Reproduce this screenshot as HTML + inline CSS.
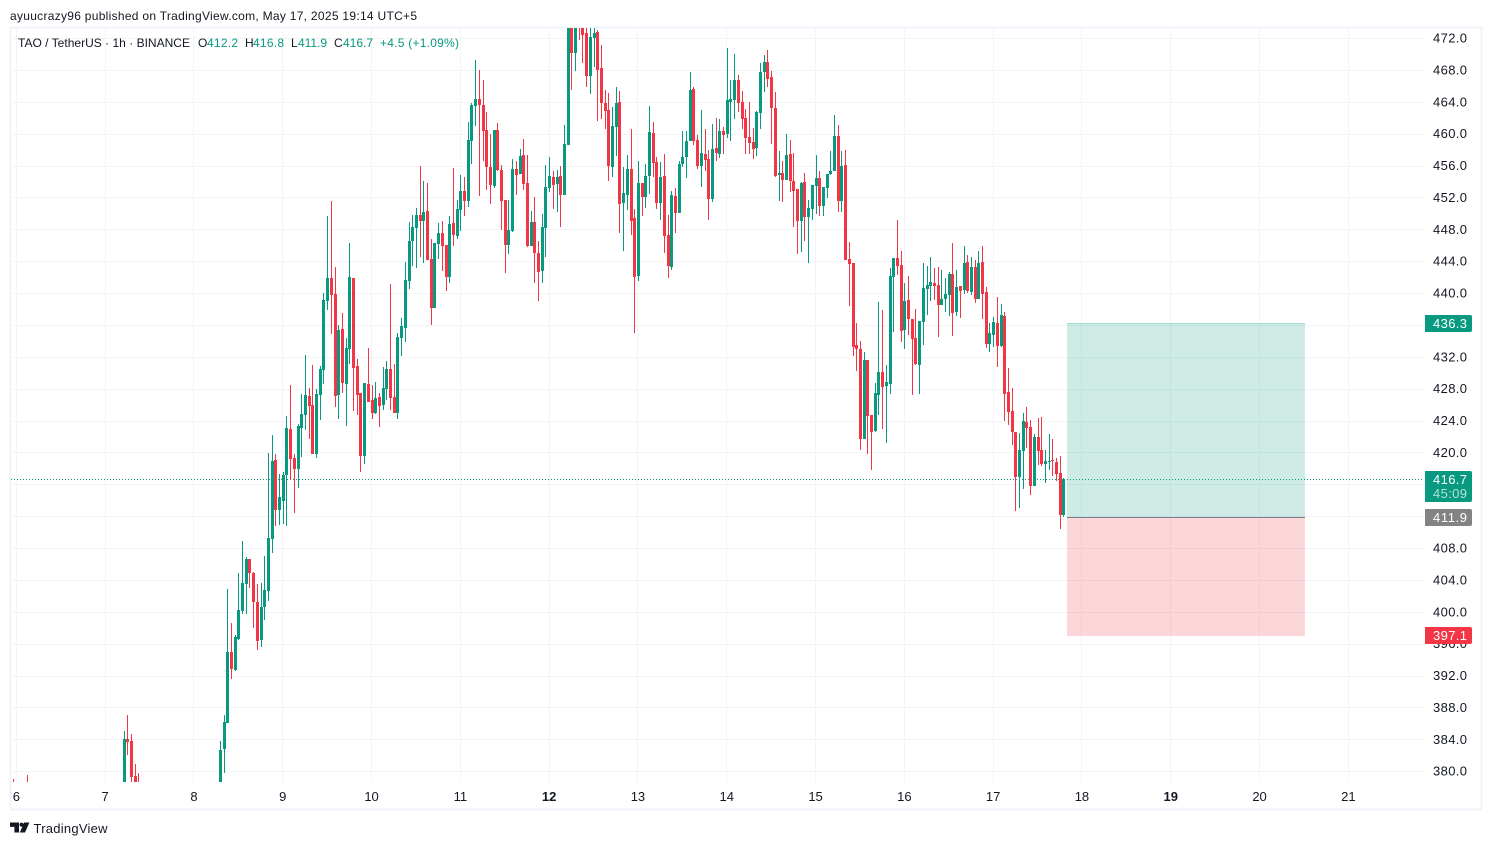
<!DOCTYPE html>
<html lang="en">
<head>
<meta charset="utf-8">
<title>TAO / TetherUS 1h chart</title>
<style>
  html, body { margin: 0; padding: 0; background: #ffffff; }
  body { width: 1492px; height: 845px; overflow: hidden; }
  svg { display: block; font-family: "Liberation Sans", sans-serif; }
  text { fill: #131722; }
</style>
</head>
<body>
<svg id="chart" xmlns="http://www.w3.org/2000/svg" width="1492" height="845" viewBox="0 0 1492 845">
  <defs>
    <clipPath id="pane-clip"><rect x="11" y="28" width="1413" height="754"></rect></clipPath>
  </defs>
  <rect x="0" y="0" width="1492" height="845" fill="#ffffff"></rect>
  <text x="10" y="20" font-size="12" textLength="407" lengthAdjust="spacing">ayuucrazy96 published on TradingView.com, May 17, 2025 19:14 UTC+5</text>
  <rect x="10.5" y="27.5" width="1471" height="782" fill="none" stroke="#f0f3fa" stroke-width="2"></rect>
  <g id="grid"></g>
  <line x1="11" x2="1424" y1="479.5" y2="479.5" stroke="#089981" stroke-width="1" stroke-dasharray="1 2"></line>
  <g>
    <rect id="profit-zone" x="1067" width="238" fill="#089981" fill-opacity="0.2"></rect>
    <rect id="loss-zone" x="1067" width="238" fill="#f23645" fill-opacity="0.2"></rect>
    <rect id="target-line" x="1067" width="238" height="1" fill="#089981" fill-opacity="0.2"></rect>
    <rect id="entry-line" x="1067" width="238" height="1" fill="#787b86"></rect>
  </g>
  <g id="candles" clip-path="url(#pane-clip)"></g>
  <g id="price-axis"></g>
  <g id="time-axis"></g>
  <g font-size="12">
    <text x="18" y="47" textLength="172" lengthAdjust="spacing">TAO / TetherUS · 1h · BINANCE</text>
    <text x="198" y="47">O</text>
    <text x="207" y="47" style="fill:#089981" textLength="31">412.2</text>
    <text x="245" y="47">H</text>
    <text x="253" y="47" style="fill:#089981" textLength="31">416.8</text>
    <text x="291" y="47">L</text>
    <text x="298" y="47" style="fill:#089981" textLength="29">411.9</text>
    <text x="334" y="47">C</text>
    <text x="343" y="47" style="fill:#089981" textLength="30">416.7</text>
    <text x="380" y="47" style="fill:#089981" textLength="79" lengthAdjust="spacing">+4.5 (+1.09%)</text>
  </g>
  <g font-size="13">
    <path d="M1425 315h45a2 2 0 0 1 2 2v13a2 2 0 0 1-2 2h-45z" fill="#089981"></path>
    <text x="1433" y="328" style="fill:#ffffff" textLength="34">436.3</text>
    <path d="M1425 471h45a2 2 0 0 1 2 2v27a2 2 0 0 1-2 2h-45z" fill="#089981"></path>
    <text x="1433" y="484" style="fill:#ffffff" textLength="34">416.7</text>
    <text x="1433" y="498" style="fill:#ffffff;fill-opacity:.7" textLength="34">45:09</text>
    <path d="M1425 509h45a2 2 0 0 1 2 2v13a2 2 0 0 1-2 2h-45z" fill="#838383"></path>
    <text x="1433" y="522" style="fill:#ffffff" textLength="34">411.9</text>
    <path d="M1425 627h45a2 2 0 0 1 2 2v13a2 2 0 0 1-2 2h-45z" fill="#f23645"></path>
    <text x="1433" y="640" style="fill:#ffffff" textLength="34">397.1</text>
  </g>
  <g>
    <path d="M10 822.5h9v10h-4.6v-5.6H10z M19.8 832.5l4.4-10h5.2l-4.4 10z" fill="#131722"></path>
    <circle cx="21.6" cy="824.7" r="2.1" fill="#131722"></circle>
    <text x="33.5" y="833" font-size="13" textLength="74" lengthAdjust="spacing">TradingView</text>
  </g>
</svg>
<script>
// Price axis tick labels
const priceTicks = [472,468,464,460,456,452,448,444,440,436,432,428,424,420,416,412,408,404,400,396,392,388,384,380];
// Day tick labels and which are emphasised
const dayLabels = ['6','7','8','9','10','11','12','13','14','15','16','17','18','19','20','21'];
const boldDays = ['12','19'];
// Position tool prices
const targetPrice = 436.3;
const entryPrice = 411.9;
const stopPrice = 397.1;
// Hours (since day 6 00:00) of the isolated candles that poke into view at the bottom
const leadHours = [-1,3,29,30,31,32,33];
const leadOpens = [377,377,378,384.13,383.88,379.5,378];
const leadHighs = [379.1,379.6,385.13,387.14,384.76,381,379.87];
const leadLows = [375,375,377,382.12,378,376,376];
const leadCloses = [376,376,384.13,383.75,379.36,377,377];
// Continuous candles, starting from this hour
const mainStartHour = 55;
const opens = [
378,382.88,386.14,395.04,392.78,396.67,400.18,403.57,406.7,404.95,
401.31,396.55,400.68,402.69,409.21,419.12,412.85,414,417.25,423.02,
419.37,417.99,423.14,424.8,427.15,426,419.88,427.3,430.42,439.07,
441.96,439.95,427.28,435.56,428.66,433.05,441.96,430.92,427.53,419.63,
428.66,426.66,425.03,427.03,426.03,428.03,430.54,427.03,425.03,434.43,
435.68,441.58,446.6,448.24,449.87,449.12,450.37,444.35,438.2,446.23,
447.61,446.11,442.09,448.87,447.24,450.5,452.88,451.62,459.15,463.54,
464.42,463.66,460.53,455.89,453.5,460.53,455.51,451.75,446.11,447.86,
455.64,455.01,457.39,453.88,445.98,449,445.1,442.85,448.24,453.25,
454.63,453.76,454.76,452.38,458.64,473.3,470.18,476,474,472.69,
467.29,472.06,472.81,468.3,463.9,463.03,455.88,460.9,464.03,451.36,
452.37,455.63,449.49,442.22,453.88,452.12,454.75,460.15,456.51,451.37,
454.75,447.36,443.34,452.25,450.11,456.26,457.14,459.14,465.66,459.27,
456.01,457.51,456.89,451.87,458.27,457.51,460.4,460.02,464.04,464.29,
466.79,464.04,462.03,459.65,459.02,458.27,462.66,467.8,469.05,467.17,
463.28,454.88,455.13,454.25,457.51,454.13,453.12,449.11,454,449.61,
450.62,453.5,454.5,451,453.25,455.01,455.38,459.77,451.62,456.14,
444.33,443.83,433.55,433.05,421.76,431.67,424.77,422.77,427.28,430.16,
428.41,428.66,442.08,444.46,443.58,435.43,439.19,436.81,434.43,431.04,
436.44,440.57,440.95,441.33,441.07,438.57,439.32,439.82,442.45,437.69,
440.95,440.45,443.96,440.2,443.33,439.31,443.95,440.19,433.67,434.8,
436.3,433.42,437.18,427.65,425.27,422.64,416.99,420.25,423.89,423.26,
415.86,422.01,420.38,418.62,418.87,419.12,418.87,417.49,412.2];
const highs = [
383.9,387.14,402.94,398.68,397.17,404.95,408.96,406.95,406.7,405.07,
403.57,403.69,407.08,420,422.25,419.87,417.36,417.61,424.65,428.54,
419.87,423.64,427.4,432.3,428.16,431.04,428,430.9,440.07,449.73,
451.61,443.33,436.06,437.57,434.43,446.34,441.96,431.8,427.53,428.79,
433.18,428.54,428.9,427.53,430.8,431.55,441.2,431.17,435.05,436.94,
443.96,448.98,449.85,450.75,456,454.13,453.88,446.86,446.36,448.87,
449.12,446.11,449.74,455.76,451.75,454.88,454.63,461.53,463.9,469.31,
468.05,466.8,462.78,460.03,460.53,461.41,456.14,451.75,451.75,456.89,
456.64,458.14,459.4,457.39,450.37,452.13,446.6,450,456.14,457.14,
455.39,455.5,456.01,461.15,474,474,474,477,474.5,474.5,
474,473.5,473.06,471.18,465.54,465.16,463.41,465.91,465.41,455.88,
457.39,460.65,450.62,456.64,453.88,456.26,463.53,461.53,457.14,456.51,
457.51,449.86,452.87,453.25,456.64,460.4,460.4,467.8,465.91,459.9,
463.03,460.65,458,461.28,462.03,461.9,460.9,470.81,466.79,470.05,
467.42,465.41,463.16,464.04,460.77,462.91,468.93,469.93,470.56,467.92,
465.29,457.89,456.64,460.02,459.27,457.64,453.12,454,455.13,451.75,
453.63,457.39,455.38,453.38,455.01,457.89,462.41,461.15,457.89,458,
446.47,443.83,436.31,434.05,432.67,431.67,424.77,428.79,438.94,437.94,
431.04,443.2,444.46,449.23,445.34,441.33,442.2,436.81,438.07,436.56,
443.83,443.46,444.59,443.21,443.33,442.96,441.95,442.71,446.34,442.96,
440.95,445.97,444.84,444.58,444.2,445.33,445.96,440.82,436.3,437.06,
439.57,438.69,437.68,430.66,428.15,422.64,422.51,425,425.77,424.14,
422.39,424.39,424.52,420.38,422.39,421.76,419.38,419.63,416.8];
const lows = [
377,379.86,386.14,391.65,392.66,396.55,399.8,399.8,403.07,398.05,
395.29,395.67,399.05,401.44,407.46,410.84,410.97,411.09,410.84,416.61,
412.47,415.6,419.5,422.9,421.76,419.88,419.4,424.14,428.66,437.94,
434.93,425.78,424.27,427.53,423.4,431.17,425.28,424.77,417.63,418.63,
426.4,424.27,424.9,423.27,425.4,426.66,425.4,425.03,424.27,432.17,
433.93,440.57,443.46,443.2,444.6,443.85,444.23,436.07,438.2,444.35,
442.85,440.34,441.34,446,446.86,447.86,449.74,450.87,456.26,461.03,
452.25,456.64,453,451.25,453.25,455.39,448,442.6,444.98,447.74,
452.38,455.01,453,445.86,445.98,441.34,439.08,441.34,444.6,452.75,
450.62,450.24,448.36,452.38,458.64,465.54,467.92,471.8,468.92,465.91,
465.04,468.42,461.65,461.9,460.65,454.13,454.63,457.26,447.61,445.35,
450.49,447.36,435.07,441.59,449.74,450.74,452.5,454.63,450.62,449.24,
445.1,441.96,442.97,447.61,450.11,455.88,454.5,459.14,458.64,455.63,
453.37,455.38,449.24,451.49,456.64,457.01,457.51,459.52,459.15,461.9,
462.78,460.65,457.51,457.51,456.89,457.26,460.65,465.29,465.92,458.77,
454.63,451.62,451.49,454.25,452.75,448.36,444.97,445.23,446.6,443.85,
449.24,450,449.74,449.74,452,454.88,455.38,450.24,450.24,444.22,
438.44,432.17,430.29,420.38,421.76,419.88,417.88,422.64,424.77,423.02,
421.26,427.41,435.18,442.33,433.93,433.05,434.8,427.28,431.04,427.41,
433.55,437.31,439.07,439.19,434.55,438.57,437.69,437.19,434.68,437.19,
436.94,439.95,440.07,439.82,438.81,439.31,436.81,433.17,432.67,433.29,
430.79,433.29,424.02,423.51,421,412.73,413.1,415.49,420.63,414.73,
415.86,418.5,418.37,416.24,417.87,417.1,416.49,410.47,411.9];
const closes = [
382.75,386.26,395.04,392.91,396.92,400.31,403.69,406.7,404.95,401.31,
396.42,400.68,402.82,409.34,418.99,412.85,414.48,417.24,423.14,419.26,
417.99,423.39,424.9,427.3,425.9,419.88,427.4,430.54,439.2,441.96,
439.82,427.15,435.43,428.8,433.18,442.08,430.67,427.28,419.63,428.79,
426.4,425.03,426.9,425.9,428.16,430.54,426.9,425.03,434.55,435.93,
441.7,446.6,448.35,449.87,449.12,450.24,444.23,438.2,446.36,447.61,
445.98,442.09,448.74,447.36,450.62,452.88,451.62,459.27,463.66,464.42,
463.66,460.4,455.89,453.63,460.53,455.51,451.62,446.11,447.99,455.64,
454.88,457.27,453.76,445.98,449,445.1,442.72,448.36,453.38,454.76,
453.63,454.63,452.38,458.77,473.3,470.18,473.3,474,472.44,467.29,
472.19,472.69,468.05,463.9,462.9,456,461.02,463.9,451.24,452.62,
455.63,449.11,442.09,453.88,452.12,454.75,460.27,456.38,451.37,454.63,
447.23,443.47,452.37,450.11,456.26,457.14,459.14,465.54,459.14,456.01,
457.64,456.76,451.87,458.14,457.64,460.4,459.9,464.29,464.41,466.79,
463.91,461.9,459.52,458.89,458.14,462.78,467.8,469.05,466.92,463.28,
454.76,455.13,454.25,457.39,454.13,452.87,449.11,453.88,449.61,450.74,
453.63,454.5,451,453.38,455.01,455.38,459.77,451.62,456.01,444.22,
443.72,433.3,433.05,421.76,431.67,424.65,422.64,427.53,430.16,428.28,
428.91,442.2,444.46,443.46,435.31,439.07,436.81,434.3,431.17,436.56,
440.7,441.07,441.45,440.95,438.57,439.32,439.95,442.45,437.56,440.82,
440.32,443.83,440.32,443.33,439.31,443.83,439.94,433.67,435.05,436.43,
433.42,437.3,427.4,425.14,422.64,416.99,420.38,424,423.14,415.86,
422.01,420.25,418.62,419,419,419,417.37,412.2,416.7];

const NS = 'http://www.w3.org/2000/svg';
function xScale(hour) { return 16.35 + hour * 3.7; }
function yScale(price) { return 357.3 + (432 - price) * 7.97; }

function make(tag, attrs, parent) {
  const el = document.createElementNS(NS, tag);
  for (const k in attrs) el.setAttribute(k, attrs[k]);
  parent.appendChild(el);
  return el;
}

const gridGroup = document.getElementById('grid');
const priceAxis = document.getElementById('price-axis');
const timeAxis = document.getElementById('time-axis');
const candleGroup = document.getElementById('candles');

priceTicks.forEach(function (tick) {
  const y = Math.floor(yScale(tick)) + 0.5;
  const line = make('line', { x1: 11, x2: 1424, y1: y, y2: y, stroke: '#f3f4f7', 'stroke-width': 1 }, gridGroup);
  
  
  const label = make('text', { x: 1433, y: yScale(tick) + 4, 'font-size': 13, textLength: 34 }, priceAxis);
  
  
  label.textContent = tick.toFixed(1);
});

dayLabels.forEach(function (day, i) {
  const x = xScale(i * 24);
  const lineX = Math.floor(x) + 0.5;
  const line = make('line', { x1: lineX, x2: lineX, y1: 28, y2: 782, stroke: '#f3f4f7', 'stroke-width': 1 }, gridGroup);
  
  
  const label = make('text', { x: x, y: 801, 'font-size': 13, 'text-anchor': 'middle', 'font-weight': boldDays.includes(day) ? 700 : 400 }, timeAxis);
  
  
  label.textContent = day;
});

function drawCandle(hour, open, high, low, close) {
  const up = close >= open;
  const color = up ? '#089981' : '#f23645';
  const col = Math.round(xScale(hour));
  const g = make('g', {}, candleGroup);
  
  
  const wickTop = Math.round(yScale(high));
  const wickBottom = Math.round(yScale(low));
  const wick = make('rect', { x: col, y: wickTop, width: 1, height: Math.max(1, wickBottom - wickTop), fill: color }, g);
  
  
  const bodyTop = Math.round(yScale(Math.max(open, close)));
  const bodyBottom = Math.round(yScale(Math.min(open, close)));
  const body = make('rect', { x: col - 1, y: bodyTop, width: 3, height: Math.max(1, bodyBottom - bodyTop), fill: color }, g);
  
  
}

leadHours.forEach(function (hour, i) {
  drawCandle(hour, leadOpens[i], leadHighs[i], leadLows[i], leadCloses[i]);
});
opens.forEach(function (open, i) {
  drawCandle(mainStartHour + i, open, highs[i], lows[i], closes[i]);
});

const targetY = Math.round(yScale(targetPrice));
const entryY = Math.round(yScale(entryPrice));
const stopY = Math.ceil(yScale(stopPrice));
const profitZone = document.getElementById('profit-zone');
profitZone.setAttribute('y', targetY);
profitZone.setAttribute('height', entryY - targetY);
const lossZone = document.getElementById('loss-zone');
lossZone.setAttribute('y', entryY);
lossZone.setAttribute('height', stopY - entryY);
document.getElementById('target-line').setAttribute('y', targetY);
document.getElementById('entry-line').setAttribute('y', entryY);
</script>
</body>
</html>
